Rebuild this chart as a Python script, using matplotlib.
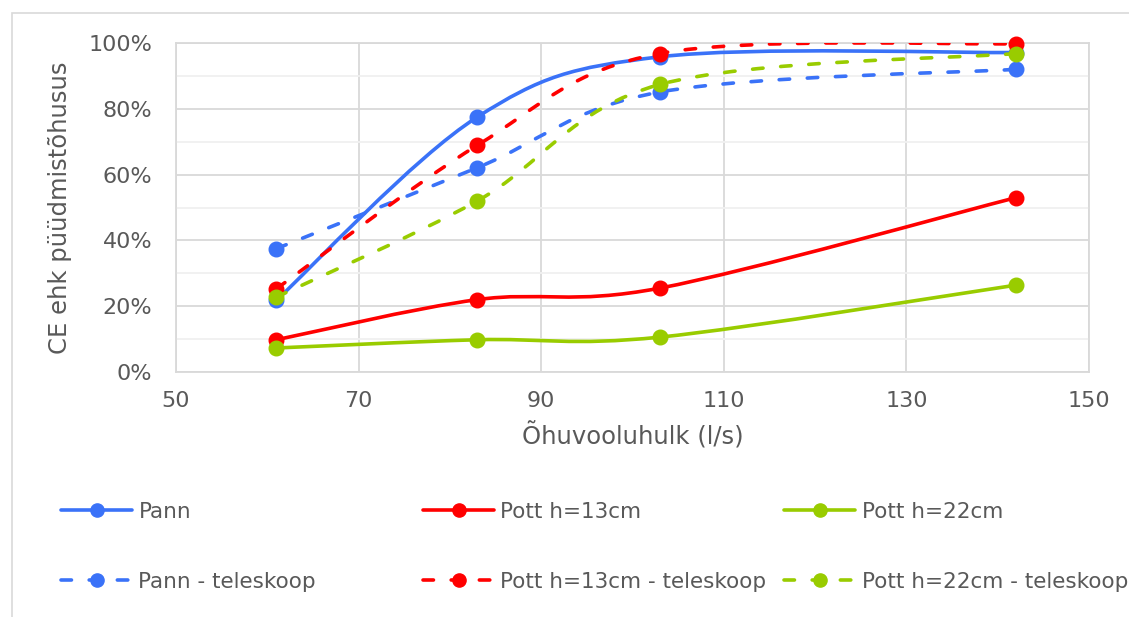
import numpy as np
import matplotlib
matplotlib.use("Agg")
import matplotlib.pyplot as plt
from matplotlib.path import Path
from matplotlib.patches import PathPatch, Rectangle
from matplotlib.lines import Line2D
from matplotlib.ticker import PercentFormatter, MultipleLocator

# Air flow (l/s) and capture efficiency (%)
airflow = [61, 83, 103, 142]
pann = [21.8, 77.5, 95.8, 97.1]
pott13 = [9.8, 22.0, 25.5, 53.0]
pott22 = [7.3, 9.8, 10.6, 26.4]
pann_tele = [37.5, 62.1, 85.1, 92.0]
pott13_tele = [25.3, 68.9, 96.8, 99.8]
pott22_tele = [22.8, 52.0, 87.4, 96.8]

x_ticks = [50, 70, 90, 110, 130, 150]

labels = ["Pann", "Pott h=13cm", "Pott h=22cm",
          "Pann - teleskoop", "Pott h=13cm - teleskoop", "Pott h=22cm - teleskoop"]
BLUE, RED, GREEN = "#3A72F8", "#FF0000", "#99CC00"
TEXT = "#595959"
GRID = "#d9d9d9"

series = [
    (pann, BLUE, False), (pott13, RED, False), (pott22, GREEN, False),
    (pann_tele, BLUE, True), (pott13_tele, RED, True), (pott22_tele, GREEN, True),
]

LW = 2.6
DASH = (0, (2.9, 4.9))


def smooth_path(xs, ys):
    """Catmull-Rom style Bezier curve through the points."""
    pts = np.column_stack([xs, ys]).astype(float)
    n = len(pts)
    verts = [pts[0]]
    codes = [Path.MOVETO]
    for i in range(n - 1):
        p0 = pts[max(i - 1, 0)]
        p1 = pts[i]
        p2 = pts[i + 1]
        p3 = pts[min(i + 2, n - 1)]
        c1 = p1 + (p2 - p0) / 6.0
        c2 = p2 - (p3 - p1) / 6.0
        verts += [c1, c2, p2]
        codes += [Path.CURVE4] * 3
    return Path(verts, codes)


plt.rcParams["font.family"] = ["DejaVu Sans"]
fig = plt.figure(figsize=(11.29, 6.17), dpi=100)
W, H = 1129, 617

# chart frame
fig.patches.append(Rectangle((12 / W, -0.1), 1.2, (H - 13) / H + 0.1,
                             transform=fig.transFigure, fill=False,
                             edgecolor=GRID, linewidth=1.2, zorder=0))

ax = fig.add_axes([176 / W, 1 - 372 / H, (1089 - 176) / W, (372 - 43) / H])
ax.set_xlim(50, 150)
ax.set_ylim(0, 100)
ax.set_xticks(x_ticks)
ax.yaxis.set_major_locator(MultipleLocator(20))
ax.yaxis.set_minor_locator(MultipleLocator(10))
ax.yaxis.set_major_formatter(PercentFormatter(xmax=100, decimals=0))
ax.grid(True, which="major", color=GRID, linewidth=1.3)
ax.grid(True, which="minor", axis="y", color="#f0f0f0", linewidth=1.3)
ax.set_axisbelow(True)
for s in ax.spines.values():
    s.set_color(GRID)
    s.set_linewidth(1.3)
ax.tick_params(which="both", length=0, labelsize=16, colors=TEXT)
ax.tick_params(axis="y", pad=17)
ax.tick_params(axis="x", pad=14)

for i, (vals, color, dashed) in enumerate(series):
    patch = PathPatch(smooth_path(airflow, vals), fill=False, edgecolor=color,
                      linewidth=LW, linestyle=DASH if dashed else "-",
                      capstyle="round", zorder=3 + i)
    ax.add_patch(patch)
    ax.plot(airflow, vals, "o", color=color, markersize=10.5, zorder=3 + i,
            clip_on=False)

ax.set_xlabel("Õhuvooluhulk (l/s)", fontsize=17.5, color=TEXT, labelpad=8)
ax.set_ylabel("CE ehk püüdmistõhusus", fontsize=17.5, color=TEXT, labelpad=12)

# legend: three equal columns, two rows
col_x = [61, 423, 784]
for c in range(3):
    handles = []
    for r in range(2):
        vals, color, dashed = series[c + 3 * r]
        handles.append(Line2D([], [], color=color, lw=LW,
                              linestyle=DASH if dashed else "-",
                              dash_capstyle="round", solid_capstyle="round",
                              marker="o", markersize=9.5))
    fig.legend(handles, [labels[c], labels[c + 3]],
               loc="upper left", bbox_to_anchor=(col_x[c] / W, 1 - 502 / H),
               frameon=False, fontsize=15.5, handlelength=3.3,
               handletextpad=0.3, labelspacing=2.3, borderpad=0,
               borderaxespad=0, labelcolor=TEXT)

fig.savefig("out.png", dpi=100)
